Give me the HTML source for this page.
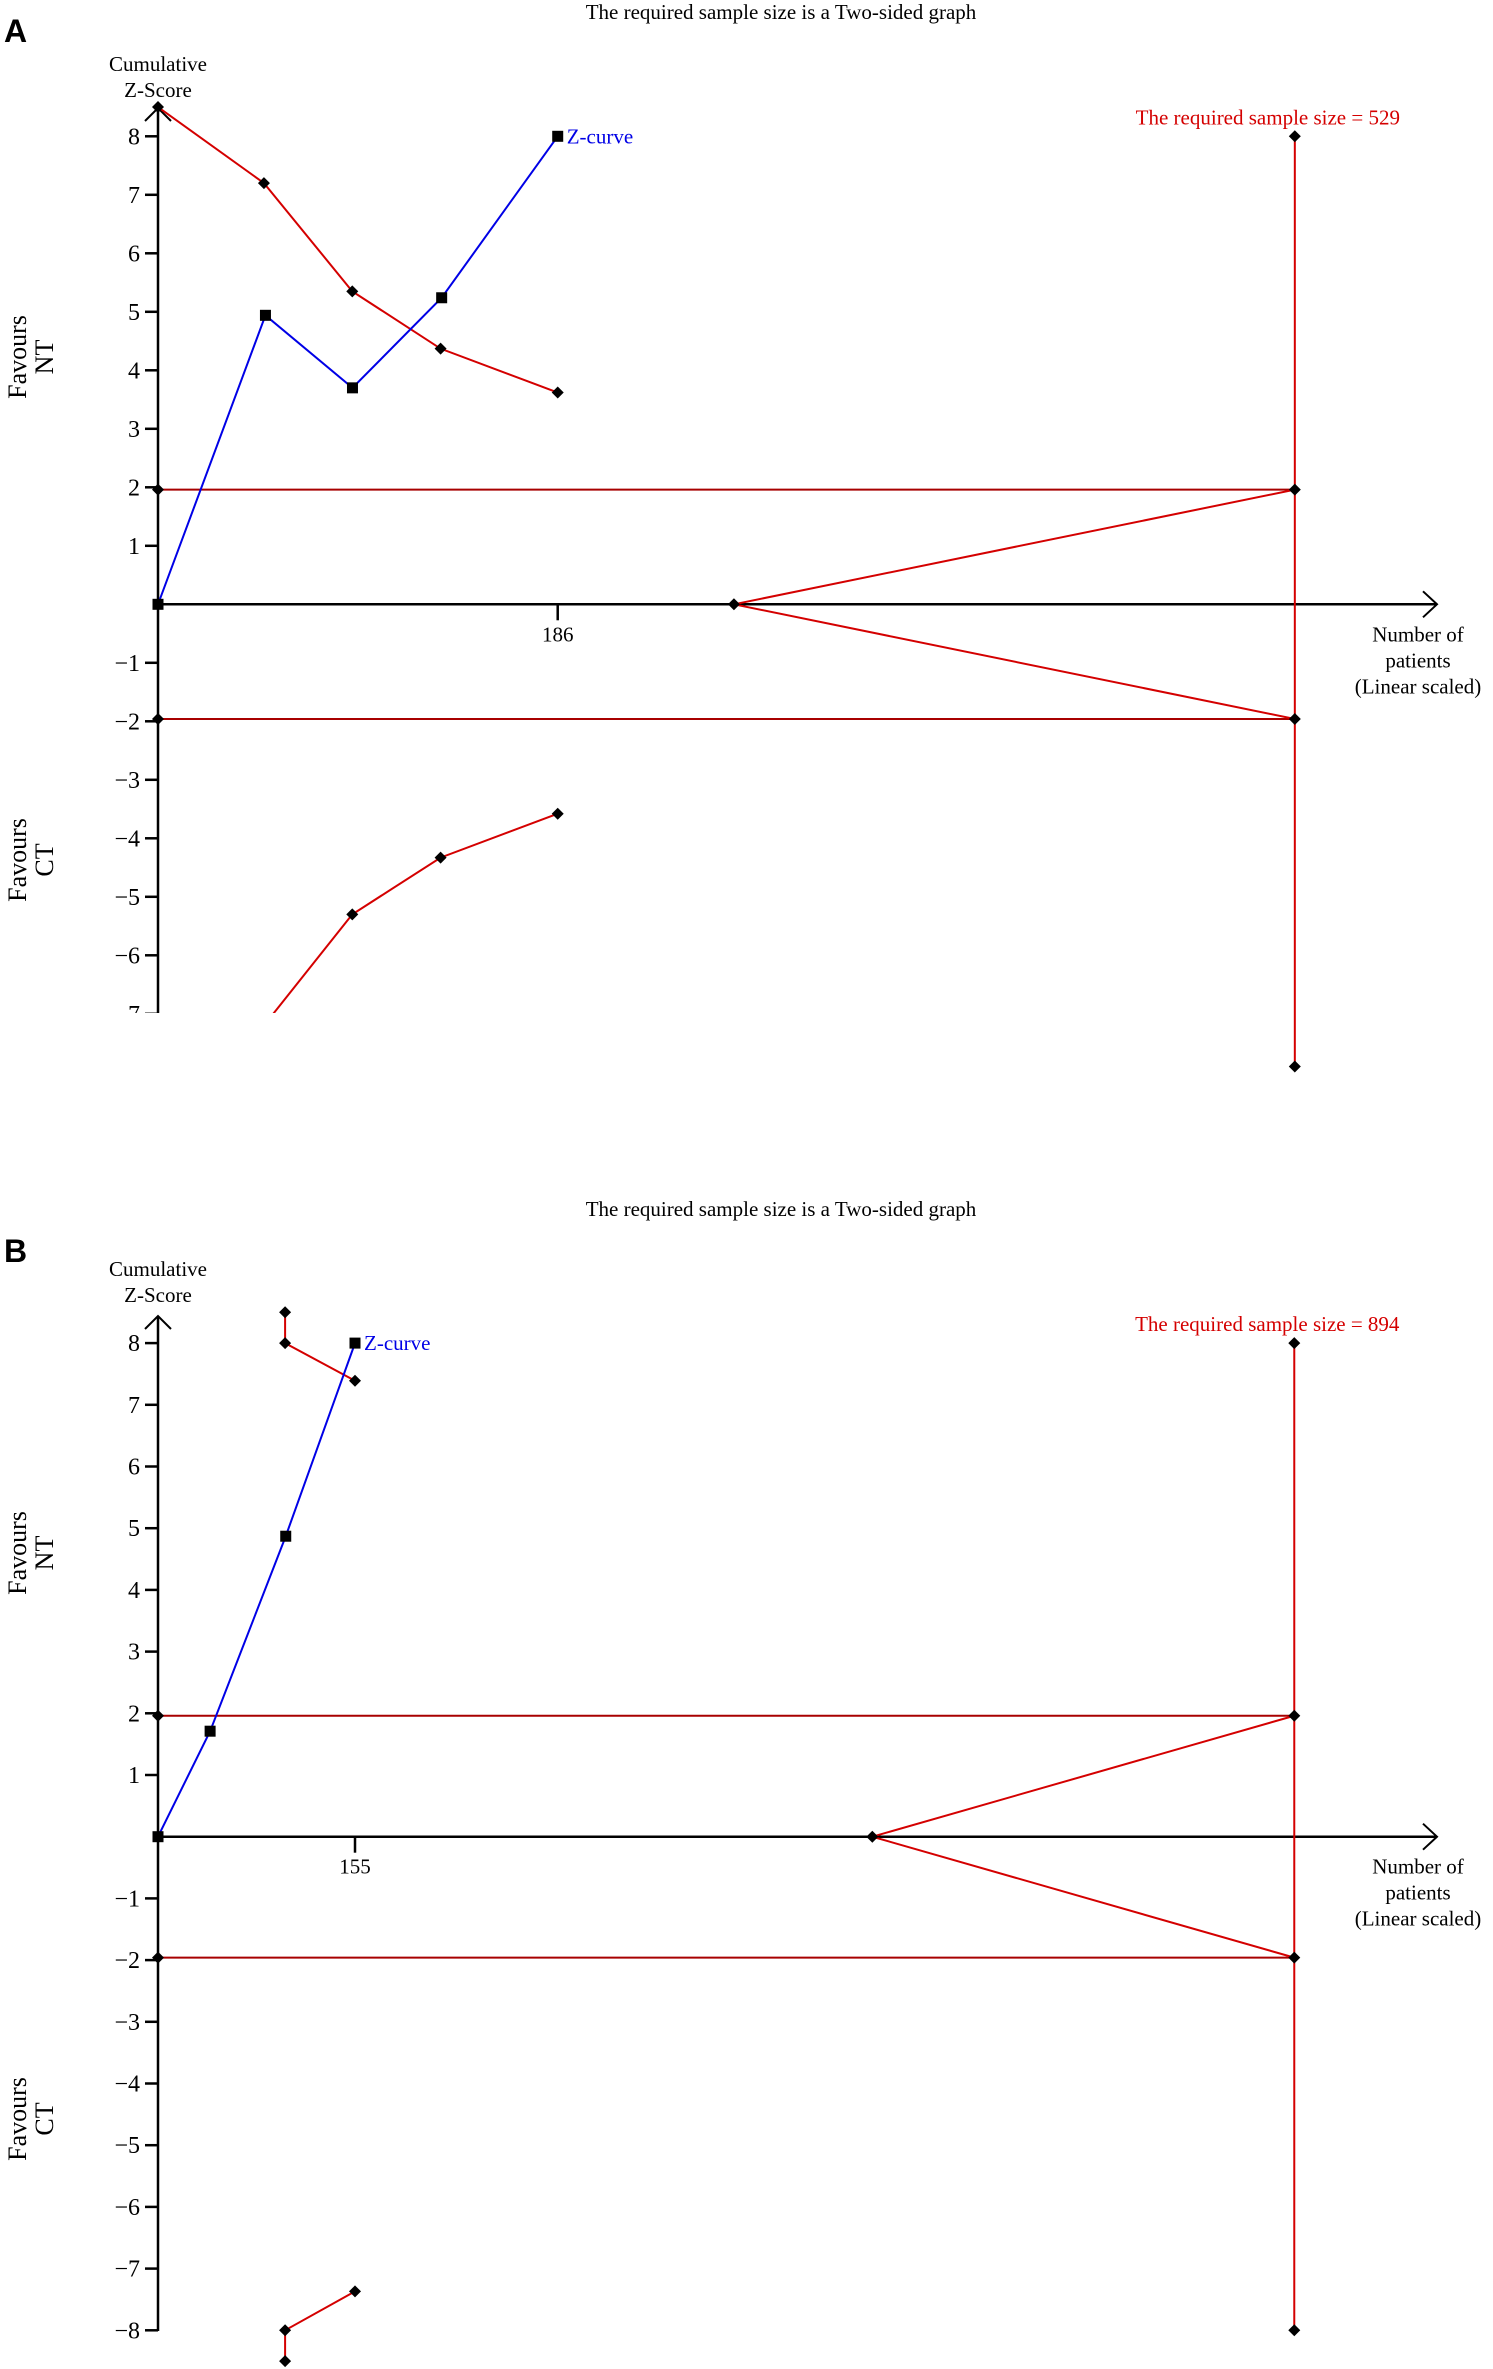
<!DOCTYPE html>
<html><head><meta charset="utf-8"><style>
html,body{margin:0;padding:0;background:#fff}
svg{display:block}
text{font-family:"Liberation Serif",serif}
</style></head><body>
<svg id="fig" width="1493" height="2369" viewBox="0 0 1493 2369" xmlns="http://www.w3.org/2000/svg">
<defs>
<clipPath id="clipA"><rect x="0" y="95" width="1493" height="918"/></clipPath>
<clipPath id="clipB"><rect x="0" y="1290" width="1493" height="1079"/></clipPath>
</defs>
</svg>
<script>
// Panel A data
const aYTicks = [8,7,6,5,4,3,2,1,-1,-2,-3,-4,-5,-6,-7];
const aXTickVals = [186];
const aReq = [529];
const aBound = [1.96];
const aFutN = [268];
const aZN = [0, 50, 90.5, 132, 186];
const aZ = [0, 4.94, 3.7, 5.24, 8.0];
const aUpN = [0, 49.3, 90.4, 131.5, 186];
const aUp = [8.5, 7.2, 5.35, 4.37, 3.62];
const aLoN = [49.3, 90.4, 131.5, 186];
const aLo = [-7.2, -5.3, -4.33, -3.58];
const aVertZ = [8.0, -7.9];
// Panel B data
const bYTicks = [8,7,6,5,4,3,2,1,-1,-2,-3,-4,-5,-6,-7,-8];
const bXTickVals = [155];
const bReq = [894];
const bBound = [1.96];
const bFutN = [562];
const bZN = [0, 41, 100.5, 155];
const bZ = [0, 1.71, 4.87, 8.0];
const bUpN = [100, 100, 155];
const bUp = [8.5, 8.0, 7.39];
const bLoN = [100, 100, 155];
const bLo = [-8.5, -8.0, -7.37];
const bVertZ = [8.0, -8.0];

const NS = "http://www.w3.org/2000/svg";
const svg = document.getElementById('fig');
const RED = "#d40000", DRED = "#a80000", BLUE = "#0000e6";

function mk(tag, attrs, parent){
  const e = document.createElementNS(NS, tag);
  for (const k in attrs) e.setAttribute(k, attrs[k]);
  (parent || svg).appendChild(e);
  return e;
}
function txt(s, x, y, size, fill, anchor, parent){
  const t = mk('text', {x:x, y:y, 'font-size':size, fill:fill, 'text-anchor':anchor}, parent);
  t.textContent = s;
  return t;
}
function diamond(x, y, g){
  const p = mk('polygon', {points:`${x},${y-6} ${x+6},${y} ${x},${y+6} ${x-6},${y}`, fill:'#000'}, g);
  
  
}
function square(x, y, g){
  const r = mk('rect', {x:x-5.5, y:y-5.5, width:11, height:11, fill:'#000'}, g);
  
  
}

function panel(o){
  const g = mk('g', {});
  
  
  const X = n => o.x0 + n * o.xs;
  const Y = z => o.y0 - z * o.ys;

  const title = txt("The required sample size is a Two-sided graph", 781, o.titleY, 21, '#000', 'middle', g);
  
  

  const lab = mk('text', {x:4, y:o.letterY, 'font-size':32, 'font-weight':'bold', style:'font-family:"Liberation Sans",sans-serif', fill:'#000'}, g);
  lab.textContent = o.letter;
  
  

  const yt = mk('g', {}, g);
  
  
  txt("Cumulative", o.x0, o.cumY, 21, '#000', 'middle', yt);
  txt("Z-Score", o.x0, o.cumY + 26, 21, '#000', 'middle', yt);

  function fav(word, cy, nm){
    const f = mk('g', {transform:`translate(0,${cy}) rotate(-90)`}, g);
    
    
    txt("Favours", 0, 26, 26, '#000', 'middle', f);
    txt(word, 0, 53, 26, '#000', 'middle', f);
  }
  fav("NT", o.ntY, 'favours-nt-label');
  fav("CT", o.ctY, 'favours-ct-label');

  const clip = mk('g', {'clip-path':`url(#${o.clip})`}, g);

  const ya = mk('line', {x1:o.x0, y1:o.axisTop, x2:o.x0, y2:o.axisBot, stroke:'#000', 'stroke-width':2.5}, clip);
  
  
  mk('polyline', {points:`${o.x0-13},${o.axisTop+13} ${o.x0},${o.axisTop} ${o.x0+13},${o.axisTop+13}`, fill:'none', stroke:'#000', 'stroke-width':2}, clip);
  o.yTicks.forEach(v => {
    const t = mk('line', {x1:o.x0-13, y1:Y(v), x2:o.x0, y2:Y(v), stroke:'#000', 'stroke-width':2.5}, clip);
    
    
    const l = txt(v < 0 ? '\u2212' + (-v) : String(v), o.x0 - 18, Y(v) + 8, 24, '#000', 'end', clip);
    
    
  });

  const xEnd = 1437;
  const xa = mk('line', {x1:o.x0, y1:Y(0), x2:xEnd, y2:Y(0), stroke:'#000', 'stroke-width':2.5}, g);
  
  
  mk('polyline', {points:`${xEnd-14},${Y(0)-13} ${xEnd},${Y(0)} ${xEnd-14},${Y(0)+13}`, fill:'none', stroke:'#000', 'stroke-width':2}, g);
  o.xTicks.forEach(v => {
    const t = mk('line', {x1:X(v), y1:Y(0), x2:X(v), y2:Y(0)+16, stroke:'#000', 'stroke-width':2.5}, g);
    
    
    const l = txt(String(v), X(v), Y(0) + 37, 21, '#000', 'middle', g);
    
    
  });
  const xt = mk('g', {}, g);
  
  
  txt("Number of", 1418, Y(0) + 37, 21, '#000', 'middle', xt);
  txt("patients", 1418, Y(0) + 63, 21, '#000', 'middle', xt);
  txt("(Linear scaled)", 1418, Y(0) + 89, 21, '#000', 'middle', xt);

  const req = o.req[0], b = o.bound[0], fn = o.fut[0];
  [b, -b].forEach(z => {
    const h = mk('line', {x1:o.x0, y1:Y(z), x2:X(req), y2:Y(z), stroke:DRED, 'stroke-width':2}, g);
    
    
  });
  const w = mk('polyline', {points:`${X(req)},${Y(b)} ${X(fn)},${Y(0)} ${X(req)},${Y(-b)}`, fill:'none', stroke:RED, 'stroke-width':2}, g);
  
  
  const v = mk('line', {x1:X(req), y1:Y(o.vert[0]), x2:X(req), y2:Y(o.vert[1]), stroke:RED, 'stroke-width':2}, g);
  
  
  const rl = txt("The required sample size = " + req, X(req) - 27, Y(o.vert[0]) - 12, 21, RED, 'middle', g);
  
  

  function bline(ns, zs, nm, parent){
    const p = mk('polyline', {points: ns.map((n,i)=>`${X(n)},${Y(zs[i])}`).join(' '), fill:'none', stroke:RED, 'stroke-width':2}, parent);
    
    
    ns.forEach((n,i)=>diamond(X(n), Y(zs[i]), parent));
  }
  bline(o.upN, o.up, 'upper-monitoring-boundary', g);
  bline(o.loN, o.lo, 'lower-monitoring-boundary', o.clipLower ? clip : g);

  [[o.x0,Y(b)],[o.x0,Y(-b)],[X(req),Y(b)],[X(req),Y(-b)],[X(fn),Y(0)],[X(req),Y(o.vert[0])],[X(req),Y(o.vert[1])]].forEach(p=>diamond(p[0],p[1],g));

  const zc = mk('polyline', {points: o.zN.map((n,i)=>`${X(n)},${Y(o.z[i])}`).join(' '), fill:'none', stroke:BLUE, 'stroke-width':2}, g);
  
  
  o.zN.forEach((n,i)=>square(X(n), Y(o.z[i]), g));
  const last = o.zN.length - 1;
  const zl = txt("Z-curve", X(o.zN[last]) + 9, Y(o.z[last]) + 7, 21, BLUE, 'start', g);
  
  
}

panel({name:'panel-a', letter:'A', x0:158, xs:2.149, y0:604.3, ys:58.5, titleY:19, letterY:42, cumY:71,
  ntY:357, ctY:860, axisTop:108, axisBot:1020, clip:'clipA', clipLower:true,
  yTicks:aYTicks, xTicks:aXTickVals, req:aReq, bound:aBound, fut:aFutN,
  zN:aZN, z:aZ, upN:aUpN, up:aUp, loN:aLoN, lo:aLo, vert:aVertZ});
panel({name:'panel-b', letter:'B', x0:158, xs:1.271, y0:1836.7, ys:61.7, titleY:1216, letterY:1262, cumY:1276,
  ntY:1553, ctY:2119, axisTop:1316, axisBot:2331, clip:'clipB', clipLower:false,
  yTicks:bYTicks, xTicks:bXTickVals, req:bReq, bound:bBound, fut:bFutN,
  zN:bZN, z:bZ, upN:bUpN, up:bUp, loN:bLoN, lo:bLo, vert:bVertZ});
</script>
</body></html>
